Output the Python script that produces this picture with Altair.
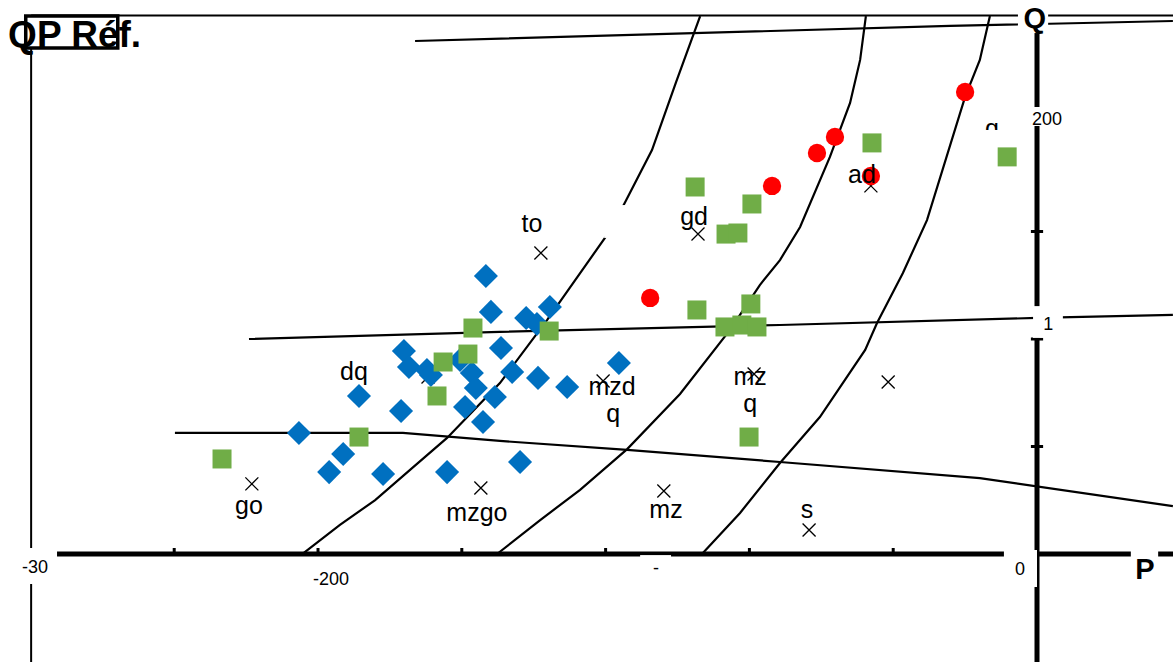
import altair as alt
import pandas as pd

# ---------------- data (P, Q units) ----------------
blue_P = [-153.3, -151.9, -135.5, -142.1, -139.1, -149.1, -176.1, -174.7, -169.7, -168.6,
          -160.5, -157.2, -156.1, -150.8, -146.0, -138.8, -130.7, -116.3, -188.6, -176.9,
          -159.1, -154.1, -205.3, -193.0, -196.9, -181.9, -164.1, -143.8]
blue_Q = [129.3, 112.6, 114.9, 109.8, 107.0, 95.8, 94.4, 87.0, 85.6, 83.3,
          90.2, 84.2, 77.2, 73.0, 84.7, 81.9, 77.7, 88.8, 73.5, 66.5,
          68.4, 61.4, 56.3, 46.5, 38.1, 37.2, 38.1, 42.8]

green_P = [-226.7, -188.6, -166.9, -165.2, -158.3, -156.9, -135.7, -95.1, -79.3, -86.5,
           -83.2, -94.6, -79.6, -86.8, -82.1, -77.9, -80.1, -45.9, -8.3]
green_Q = [44.2, 54.4, 73.5, 89.3, 93.0, 105.1, 103.7, 170.7, 162.8, 148.8,
           149.3, 113.5, 116.3, 105.6, 106.5, 105.6, 54.4, 191.2, 184.7]

red_P = [-107.6, -73.7, -61.2, -56.2, -46.2, -20.0]
red_Q = [119.1, 171.2, 186.5, 194.0, 175.8, 214.9]

ref_names = ["to", "gd", "ad", "dq", "mzdq", "mzq", "go", "mzgo", "mz", "s", "?"]
ref_P = [-138.0, -94.3, -46.2, -169.4, -120.7, -78.7, -218.4, -154.7, -103.8, -63.4, -41.4]
ref_Q = [140.0, 148.8, 171.2, 82.3, 80.5, 83.7, 32.6, 30.7, 29.3, 11.2, 80.0]

label_text = ["to", "gd", "ad", "dq", "mzd", "q", "mz", "q", "go", "mzgo", "mz", "s", "q"]
label_P = [-140.5, -95.4, -48.7, -190.0, -118.2, -117.9, -79.8, -79.8, -219.2, -155.8, -103.2, -64.0, -12.5]
label_Q = [149.8, 153.0, 172.6, 80.9, 74.0, 61.4, 78.6, 66.0, 18.6, 15.3, 16.7, 16.7, 194.0]

# boundary curves
top_P = [-173.0, -24.2, 37.8]
top_Q = [238.6, 245.6, 247.9]
mid_P = [-219.2, -149.4, -71.5, 0.0, 37.8]
mid_Q = [100.0, 103.3, 106.5, 109.8, 111.2]
low_P = [-239.8, -176.4, -149.4, -114.0, -71.5, -15.9, 37.8]
low_Q = [56.3, 56.3, 52.6, 48.4, 42.8, 35.3, 22.3]
cA_P = [-204.4, -193.9, -184.1, -174.4, -164.1, -149.4, -136.3, -119.6, -115.4, -107.1, -100.4, -93.7]
cA_Q = [0.0, 13.5, 25.1, 39.1, 54.0, 79.5, 108.8, 148.4, 160.9, 187.9, 219.5, 250.2]
cB_P = [-150.2, -138.2, -127.1, -114.0, -99.3, -85.4, -77.1, -71.5, -65.9, -57.6, -52.0, -49.2, -47.6]
cB_Q = [0.0, 15.8, 29.8, 48.8, 74.4, 104.2, 125.1, 136.7, 152.1, 184.7, 209.8, 229.8, 250.2]
cC_P = [-93.2, -82.6, -71.5, -60.4, -47.8, -44.5, -37.3, -30.6, -20.0, -15.9, -13.1]
cC_Q = [0.0, 19.1, 42.3, 63.7, 94.9, 107.4, 130.7, 155.3, 212.6, 229.8, 250.2]

# axes
p_ticks = [-240, -200, -160, -120, -80, -40]
q_ticks = [50, 100, 150, 200]
tick_text = ["200", "1", "0", "-30", "-200", "-"]
tick_P = [2.8, 3.1, -4.7, -278.7, -196.4, -106.0]
tick_Q = [199.5, 104.2, -9.8, -8.8, -14.4, -9.3]

P_MIN, P_MAX = -288.46, 37.83
Q_MIN, Q_MAX = -50.23, 257.67

XS = alt.Scale(domain=[P_MIN, P_MAX], nice=False, zero=False)
YS = alt.Scale(domain=[Q_MIN, Q_MAX], nice=False, zero=False)


def X(f="P"):
    return alt.X(f"{f}:Q", scale=XS, axis=None)


def Y(f="Q"):
    return alt.Y(f"{f}:Q", scale=YS, axis=None)


FONT = "Liberation Sans"

# ---------------- frames & rules ----------------
frame = pd.DataFrame({"P": [-279.8, -279.8], "Q": [250.5, 250.5],
                      "P2": [P_MAX, -279.8], "Q2": [250.5, Q_MIN]})
frame_l = alt.Chart(frame).mark_rule(color="black", strokeWidth=2).encode(
    x=X(), y=Y(), x2="P2:Q", y2="Q2:Q")

rows = []
for name, ps, qs in [("top", top_P, top_Q), ("mid", mid_P, mid_Q), ("low", low_P, low_Q),
                     ("A", cA_P, cA_Q), ("B", cB_P, cB_Q), ("C", cC_P, cC_Q)]:
    for i, (p, q) in enumerate(zip(ps, qs)):
        rows.append({"curve": name, "i": i, "P": p, "Q": q})
curves = pd.DataFrame(rows)
curve_l = alt.Chart(curves).mark_line(color="black", strokeWidth=2.2).encode(
    x=X(), y=Y(), detail="curve:N", order="i:Q")

axes = pd.DataFrame({"P": [-272.6, 0.0], "Q": [0.0, 250.0], "P2": [P_MAX, 0.0], "Q2": [0.0, Q_MIN]})
axes_l = alt.Chart(axes).mark_rule(color="black", strokeWidth=5).encode(
    x=X(), y=Y(), x2="P2:Q", y2="Q2:Q")

ticks = pd.DataFrame(
    [{"P": p, "Q": -0.5, "P2": p, "Q2": 2.8} for p in p_ticks] +
    [{"P": -1.7, "Q": q, "P2": 1.7, "Q2": q} for q in q_ticks])
ticks_l = alt.Chart(ticks).mark_rule(color="black", strokeWidth=3).encode(
    x=X(), y=Y(), x2="P2:Q", y2="Q2:Q")

# white label backgrounds that cut the lines
boxes = pd.DataFrame({
    "P": [-5.3, -1.9, -1.1, -9.2, 26.1, -110.4, -284.3, -120.4],
    "P2": [3.1, 7.5, 7.2, 0.0, 33.7, -101.8, -272.6, -114.6],
    "Q": [242.3, 199.1, 100.5, -15.3, -13.9, -14.4, -14.0, 147.0],
    "Q2": [255.3, 207.9, 115.3, 1.9, 2.3, -0.5, 2.8, 162.3],
})
boxes_l = alt.Chart(boxes).mark_rect(color="white").encode(
    x=X(), y=Y(), x2="P2:Q", y2="Q2:Q")

title_box = pd.DataFrame({"P": [-281.3], "P2": [-255.7], "Q": [235.3], "Q2": [250.2]})
title_box_l = alt.Chart(title_box).mark_rect(fill="white", stroke="black", strokeWidth=3.5).encode(
    x=X(), y=Y(), x2="P2:Q", y2="Q2:Q")

# ---------------- markers ----------------
refs = pd.DataFrame({"name": ref_names, "P": ref_P, "Q": ref_Q})
refs_l = alt.Chart(refs).mark_point(
    shape="M-1,-1L1,1M-1,1L1,-1", size=169, color="black", strokeWidth=1.3, filled=False, opacity=1
).encode(x=X(), y=Y())

blue = pd.DataFrame({"P": blue_P, "Q": blue_Q})
blue_l = alt.Chart(blue).mark_point(shape="diamond", size=580, filled=True, color="#0070C0",
                                     opacity=1, strokeWidth=0).encode(x=X(), y=Y())
green = pd.DataFrame({"P": green_P, "Q": green_Q})
green_l = alt.Chart(green).mark_point(shape="square", size=361, filled=True, color="#70AD47",
                                       opacity=1, strokeWidth=0).encode(x=X(), y=Y())
red = pd.DataFrame({"P": red_P, "Q": red_Q})
red_l = alt.Chart(red).mark_point(shape="circle", size=335, filled=True, color="#FF0000",
                                   opacity=1, strokeWidth=0).encode(x=X(), y=Y())

# partial label cover near top right
cover = pd.DataFrame({"P": [-16.5], "P2": [-9.0], "Q": [186.0], "Q2": [197.2]})
cover_l = alt.Chart(cover).mark_rect(color="white").encode(x=X(), y=Y(), x2="P2:Q", y2="Q2:Q")

# ---------------- texts ----------------
labels = pd.DataFrame({"t": label_text, "P": label_P, "Q": label_Q})
labels_l = alt.Chart(labels).mark_text(font=FONT, fontSize=25, color="black",
                                       align="center", baseline="alphabetic").encode(
    x=X(), y=Y(), text="t:N")

tlabels = pd.DataFrame({"t": tick_text, "P": tick_P, "Q": tick_Q})
tlabels_l = alt.Chart(tlabels).mark_text(font=FONT, fontSize=18, color="black",
                                         align="center", baseline="alphabetic").encode(
    x=X(), y=Y(), text="t:N")

axis_titles = pd.DataFrame({"t": ["Q", "P"], "P": [-0.6, 30.0], "Q": [244.7, -11.6]})
axis_titles_l = alt.Chart(axis_titles).mark_text(font=FONT, fontSize=29, fontWeight="bold",
                                                 color="black", align="center",
                                                 baseline="alphabetic").encode(
    x=X(), y=Y(), text="t:N")

title = pd.DataFrame({"t": ["QP Réf."], "P": [-286.2], "Q": [235.8]})
title_l = alt.Chart(title).mark_text(font=FONT, fontSize=37, fontWeight="bold", color="black",
                                     align="left", baseline="alphabetic").encode(
    x=X(), y=Y(), text="t:N")

chart = alt.layer(
    frame_l, curve_l, axes_l, ticks_l, boxes_l, title_box_l,
    refs_l, blue_l, red_l, labels_l, cover_l, green_l,
    tlabels_l, axis_titles_l, title_l,
).properties(
    width=1173, height=662, padding=0, autosize=alt.AutoSizeParams(type="none"),
    background="white",
).configure_view(stroke=None)

chart.save("out.html", embed_options={"renderer": "svg", "actions": False})
